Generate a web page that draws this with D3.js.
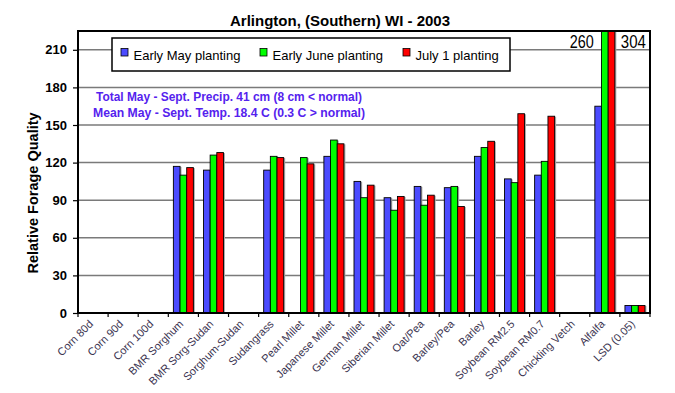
<!DOCTYPE html>
<html><head><meta charset="utf-8">
<script src="https://cdn.jsdelivr.net/npm/d3@7"></script>
<style>body{margin:0;background:#fff;} svg{display:block;font-family:Arial,"Liberation Sans",sans-serif;}</style>
</head><body>
<script>
const categories = ["Corn 80d","Corn 90d","Corn 100d","BMR Sorghum","BMR Sorg-Sudan","Sorghum-Sudan","Sudangrass","Pearl Millet","Japanese Millet","German Millet","Siberian Millet","Oat/Pea","Barley/Pea","Barley","Soybean RM2.5","Soybean RM0.7","Chickling Vetch","Alfalfa","LSD (0.05)"];
const seriesNames = ["Early May planting","Early June planting","July 1 planting"];
const earlyMay  = [null,null,null,117,114,null,114,null,125,105,92,101,100,125,107,110,null,165,6];
const earlyJune = [null,null,null,110,126,null,125,124,138,92,82,86,101,132,104,121,null,260,6];
const july1     = [null,null,null,116,128,null,124,119,135,102,93,94,85,137,159,157,null,304,6];
const yTicks = [0,30,60,90,120,150,180,210];
const notes = ["Total May - Sept. Precip. 41 cm (8 cm < normal)","Mean May - Sept. Temp. 18.4 C (0.3 C > normal)"];
const title = "Arlington, (Southern) WI - 2003";
const yTitle = "Relative Forage Quality";
const colors = ["#4b4bff","#00ff00","#ff0000"];

const W=675,H=393, L=78, R=650, T=31, B=313;
const svg=d3.select("body").append("svg").attr("width",W).attr("height",H);

const x=d3.scaleBand().domain(categories).range([L,R]).paddingInner(0).paddingOuter(0);
const y=d3.scaleLinear().domain([0,225]).range([B,T]).clamp(true);
const grpW=20, off=(x.bandwidth()-grpW)/2, bw=grpW/3;

// gridlines
svg.append("g").selectAll("line").data(yTicks.filter(d=>d>0)).join("line")
  .attr("x1",L).attr("x2",R).attr("y1",d=>y(d)).attr("y2",d=>y(d))
  .attr("stroke","#7a7a7a").attr("stroke-width",1.5);

// bars
const series=[earlyMay,earlyJune,july1];
const bars=[];
series.forEach((arr,si)=>arr.forEach((v,ci)=>{ if(v!=null) bars.push({v,si,c:categories[ci]}); }));
const bx=d=>x(d.c)+off+d.si*bw;
svg.append("g").selectAll("rect").data(bars).join("rect")
  .attr("x",d=>bx(d)+1.5).attr("y",d=>y(d.v)+0.5).attr("width",bw).attr("height",d=>B-y(d.v)-0.5)
  .attr("fill","#aaa");
svg.append("g").selectAll("rect").data(bars).join("rect")
  .attr("x",bx).attr("y",d=>y(d.v)).attr("width",bw).attr("height",d=>B-y(d.v))
  .attr("fill",d=>colors[d.si]).attr("stroke","#000").attr("stroke-width",0.9);

// frame
svg.append("rect").attr("x",L).attr("y",T).attr("width",R-L).attr("height",B-T)
  .attr("fill","none").attr("stroke","#000").attr("stroke-width",2);

// y axis
const ya=svg.append("g").attr("transform",`translate(${L},0)`)
  .call(d3.axisLeft(y).tickValues(yTicks).tickSize(5).tickPadding(6));
ya.select(".domain").remove();
ya.selectAll("line").attr("stroke","#000").attr("stroke-width",1.2);
ya.selectAll("text").attr("font-size",13).attr("font-weight","bold").attr("fill","#000")
  .attr("font-family","Arial,'Liberation Sans',sans-serif");

// x axis
const xa=svg.append("g").attr("transform",`translate(0,${B})`)
  .call(d3.axisBottom(x).tickSize(0).tickFormat(""));
xa.select(".domain").remove();
svg.append("g").selectAll("line").data(categories.concat(["__end"])).join("line")
  .attr("x1",(d,i)=>L+i*x.bandwidth()).attr("x2",(d,i)=>L+i*x.bandwidth())
  .attr("y1",B).attr("y2",B+4).attr("stroke","#000").attr("stroke-width",1.2);
svg.append("g").selectAll("text").data(categories).join("text")
  .attr("transform",d=>`translate(${x(d)+x.bandwidth()/2-2},${B+9}) rotate(-45)`)
  .attr("text-anchor","end").attr("dy","0.35em")
  .attr("font-size",11).attr("fill","#3a3350").text(d=>d);

// title
svg.append("text").attr("x",340).attr("y",26).attr("text-anchor","middle")
  .attr("font-size",15).attr("font-weight","bold").text(title);
// y title
svg.append("text").attr("transform","translate(38,193) rotate(-90)").attr("text-anchor","middle")
  .attr("font-size",14.5).attr("font-weight","bold").text(yTitle);

// legend
const lg=svg.append("g");
lg.append("rect").attr("x",112).attr("y",38).attr("width",398).attr("height",33)
  .attr("fill","#fff").attr("stroke","#000").attr("stroke-width",1.5);
const lx=[121,260,403];
seriesNames.forEach((n,i)=>{
  lg.append("rect").attr("x",lx[i]).attr("y",48.5).attr("width",7).attr("height",7.5)
    .attr("fill",colors[i]).attr("stroke","#000").attr("stroke-width",0.8);
  lg.append("text").attr("x",lx[i]+12.5).attr("y",59.5).attr("font-size",13).text(n);
});

// notes
const nlen=[266,272];
notes.forEach((t,i)=>{
  svg.append("text").attr("x",229).attr("y",101+i*15.5).attr("text-anchor","middle")
    .attr("font-size",12).attr("font-weight","bold").attr("fill","#5522ee")
    .attr("textLength",nlen[i]).attr("lengthAdjust","spacingAndGlyphs").text(t);
});

// off-scale value labels for Alfalfa
const alf=categories.indexOf("Alfalfa");
svg.append("text").attr("x",x("Alfalfa")+off-1).attr("y",48).attr("text-anchor","end")
  .attr("font-size",17.5).attr("textLength",24).attr("lengthAdjust","spacingAndGlyphs").text(earlyJune[alf]);
svg.append("text").attr("x",x("Alfalfa")+off+3*bw+6).attr("y",48).attr("text-anchor","start")
  .attr("font-size",17.5).attr("textLength",25).attr("lengthAdjust","spacingAndGlyphs").text(july1[alf]);
</script>
</body></html>
